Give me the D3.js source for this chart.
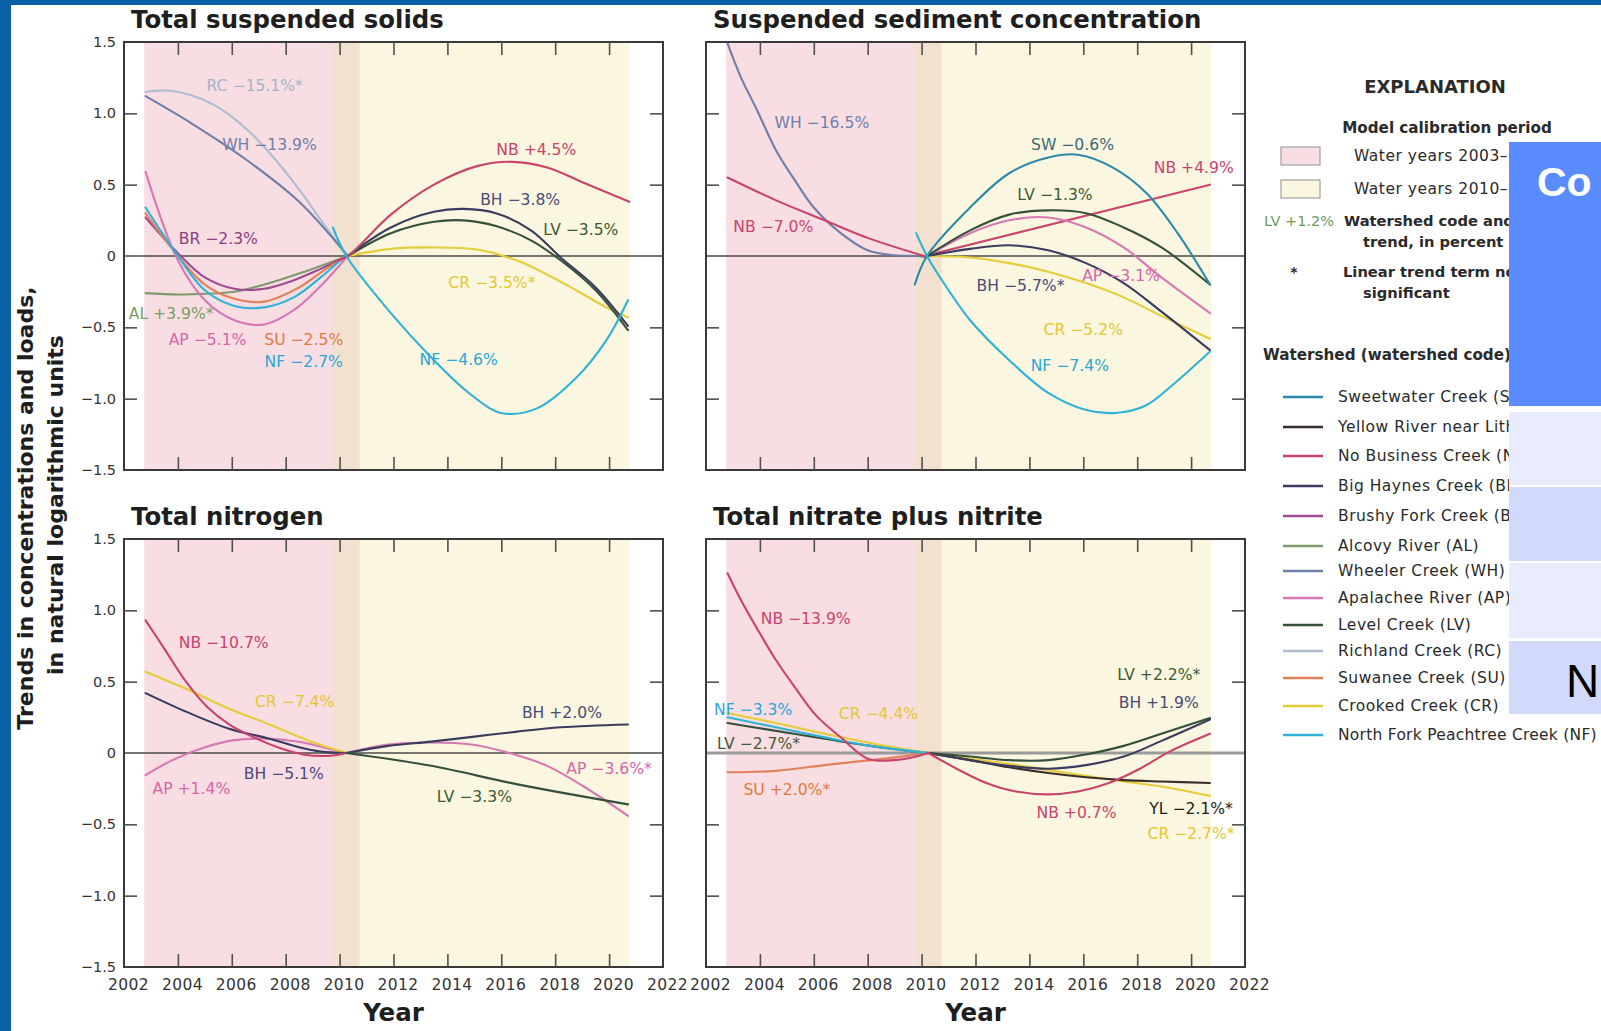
<!DOCTYPE html>
<html>
<head>
<meta charset="utf-8">
<script src="https://cdn.jsdelivr.net/npm/d3@7"></script>
<style>
  body { margin: 0; background: #ffffff; overflow: hidden; }
  svg { display: block; }
</style>
</head>
<body>
<svg id="chart" width="1601" height="1031"></svg>
<script>
// ---------- data ----------
const xTickYears = [2004, 2006, 2008, 2010, 2012, 2014, 2016, 2018, 2020];
const xLabelYears = [2002, 2004, 2006, 2008, 2010, 2012, 2014, 2016, 2018, 2020, 2022];
const yTickValues = [-1.0, -0.5, 0.5, 1.0];
const yLabelValues = [1.5, 1.0, 0.5, 0, -0.5, -1.0, -1.5];

const calibrationPeriods = [
  { label: "Water years 2003–2010", start: 2002.75, end: 2010.75 },
  { label: "Water years 2010–2020", start: 2009.75, end: 2020.75 }
];

const watersheds = [
  { code: "SW", name: "Sweetwater Creek (SW)" },
  { code: "YL", name: "Yellow River near Lithonia (YL)" },
  { code: "NB", name: "No Business Creek (NB)" },
  { code: "BH", name: "Big Haynes Creek (BH)" },
  { code: "BR", name: "Brushy Fork Creek (BR)" },
  { code: "AL", name: "Alcovy River (AL)" },
  { code: "WH", name: "Wheeler Creek (WH)" },
  { code: "AP", name: "Apalachee River (AP)" },
  { code: "LV", name: "Level Creek (LV)" },
  { code: "RC", name: "Richland Creek (RC)" },
  { code: "SU", name: "Suwanee Creek (SU)" },
  { code: "CR", name: "Crooked Creek (CR)" },
  { code: "NF", name: "North Fork Peachtree Creek (NF)" }
];

const panelTitles = [
  "Total suspended solids",
  "Suspended sediment concentration",
  "Total nitrogen",
  "Total nitrate plus nitrite"
];

// Total suspended solids: [water year, trend in natural log units]
const tssCurves = [
  { code: "RC", pts: [[2002.8,1.15],[2003.6,1.16],[2004.6,1.12],[2005.6,1.03],[2006.6,0.88],[2007.6,0.68],[2008.6,0.44],[2009.5,0.2],[2010.3,0]] },
  { code: "WH", pts: [[2002.8,1.12],[2004.5,0.93],[2006.5,0.68],[2008.5,0.38],[2010.3,0]] },
  { code: "AL", pts: [[2002.8,-0.26],[2004.0,-0.27],[2005.0,-0.265],[2006.1,-0.25],[2007.4,-0.19],[2008.7,-0.11],[2010.3,0]] },
  { code: "BR", pts: [[2002.8,0.27],[2004.0,0.02],[2005.0,-0.15],[2006.1,-0.23],[2007.2,-0.23],[2008.3,-0.17],[2009.3,-0.09],[2010.3,0]] },
  { code: "SU", pts: [[2002.8,0.3],[2004.0,0.0],[2005.0,-0.2],[2006.1,-0.3],[2007.2,-0.32],[2008.5,-0.22],[2009.5,-0.09],[2010.3,0]] },
  { code: "AP", pts: [[2002.8,0.59],[2004.0,-0.03],[2005.0,-0.31],[2006.1,-0.45],[2007.2,-0.48],[2008.3,-0.38],[2009.3,-0.21],[2010.3,0]] },
  { code: "NF", pts: [[2002.8,0.34],[2004.0,0.0],[2005.0,-0.24],[2006.1,-0.35],[2007.2,-0.36],[2008.3,-0.29],[2009.3,-0.15],[2010.2,0]] },
  { code: "CR", pts: [[2010.3,0],[2011.9,0.05],[2013.5,0.06],[2015.1,0.045],[2016.7,-0.04],[2018.3,-0.19],[2019.9,-0.36],[2020.7,-0.43]] },
  { code: "LV", pts: [[2010.3,0],[2011.9,0.16],[2013.5,0.24],[2014.6,0.25],[2015.8,0.21],[2017.1,0.11],[2018.2,-0.03],[2019.5,-0.24],[2020.7,-0.52]] },
  { code: "BH", pts: [[2010.3,0],[2011.9,0.2],[2013.5,0.31],[2014.6,0.33],[2015.8,0.3],[2017.1,0.18],[2018.2,-0.01],[2019.5,-0.22],[2020.7,-0.49]] },
  { code: "NB", pts: [[2009.8,-0.04],[2010.3,0],[2011.9,0.29],[2013.5,0.5],[2015.1,0.63],[2016.4,0.66],[2017.7,0.62],[2019.1,0.51],[2020.75,0.38]] },
  { code: "NF", pts: [[2009.75,0.2],[2010.25,0],[2011.9,-0.4],[2013.5,-0.73],[2014.8,-0.96],[2016.0,-1.1],[2017.3,-1.07],[2018.8,-0.85],[2019.9,-0.59],[2020.7,-0.31]] }
];
const tssLabels = [
  { code: "RC", text: "RC −15.1%*", year: 2006.85, value: 1.19 },
  { code: "WH", text: "WH −13.9%", year: 2007.4, value: 0.78 },
  { code: "NB", text: "NB +4.5%", year: 2017.3, value: 0.74 },
  { code: "BH", text: "BH −3.8%", year: 2016.7, value: 0.39 },
  { code: "LV", text: "LV −3.5%", year: 2018.95, value: 0.18 },
  { code: "BR", text: "BR −2.3%", year: 2005.5, value: 0.12 },
  { code: "CR", text: "CR −3.5%*", year: 2015.65, value: -0.19 },
  { code: "AL", text: "AL +3.9%*", year: 2003.75, value: -0.41 },
  { code: "AP", text: "AP −5.1%", year: 2005.1, value: -0.59 },
  { code: "SU", text: "SU −2.5%", year: 2008.67, value: -0.59 },
  { code: "NF", text: "NF −2.7%", year: 2008.67, value: -0.74 },
  { code: "NF", text: "NF −4.6%", year: 2014.42, value: -0.73 }
];

// Suspended sediment concentration
const sscCurves = [
  { code: "WH", pts: [[2002.8,1.49],[2003.3,1.25],[2003.9,1.02],[2004.6,0.74],[2005.3,0.53],[2006.0,0.34],[2007.0,0.16],[2008.0,0.04],[2009.0,0.005],[2009.85,0],[2010.2,-0.01]] },
  { code: "NB", pts: [[2002.8,0.55],[2004.6,0.39],[2006.4,0.25],[2008.1,0.12],[2010.1,0]] },
  { code: "NB", pts: [[2010.1,0],[2020.7,0.5]] },
  { code: "CR", pts: [[2010.2,0],[2011.8,-0.01],[2013.25,-0.05],[2014.7,-0.11],[2016.1,-0.19],[2017.5,-0.29],[2018.9,-0.42],[2020.7,-0.58]] },
  { code: "AP", pts: [[2010.2,0],[2011.8,0.16],[2013.25,0.25],[2014.7,0.27],[2016.1,0.2],[2017.5,0.06],[2018.9,-0.15],[2020.7,-0.4]] },
  { code: "BH", pts: [[2010.2,0],[2011.8,0.05],[2013.25,0.075],[2014.7,0.04],[2016.1,-0.05],[2017.5,-0.19],[2018.9,-0.39],[2020.7,-0.66]] },
  { code: "LV", pts: [[2010.2,0],[2011.8,0.18],[2013.25,0.29],[2014.7,0.32],[2016.1,0.3],[2017.5,0.2],[2018.9,0.06],[2020.7,-0.2]] },
  { code: "SW", pts: [[2009.75,-0.2],[2010.2,0],[2011.8,0.34],[2013.25,0.58],[2014.7,0.69],[2015.8,0.71],[2017.1,0.62],[2018.35,0.44],[2019.5,0.16],[2020.7,-0.2]] },
  { code: "NF", pts: [[2009.8,0.16],[2010.2,0],[2011.0,-0.24],[2011.8,-0.45],[2013.25,-0.73],[2014.7,-0.96],[2016.1,-1.08],[2017.2,-1.1],[2018.3,-1.05],[2019.4,-0.89],[2020.7,-0.67]] }
];
const sscLabels = [
  { code: "WH", text: "WH −16.5%", year: 2006.3, value: 0.93 },
  { code: "SW", text: "SW −0.6%", year: 2015.6, value: 0.78 },
  { code: "NB", text: "NB +4.9%", year: 2020.1, value: 0.62 },
  { code: "LV", text: "LV −1.3%", year: 2014.95, value: 0.43 },
  { code: "NB", text: "NB −7.0%", year: 2004.5, value: 0.2 },
  { code: "BH", text: "BH −5.7%*", year: 2013.67, value: -0.21 },
  { code: "AP", text: "AP −3.1%", year: 2017.4, value: -0.14 },
  { code: "CR", text: "CR −5.2%", year: 2016.0, value: -0.52 },
  { code: "NF", text: "NF −7.4%", year: 2015.5, value: -0.77 }
];

// Total nitrogen
const tnCurves = [
  { code: "AP", pts: [[2002.8,-0.155],[2003.8,-0.05],[2005.0,0.04],[2006.1,0.09],[2007.4,0.1],[2008.6,0.075],[2009.6,0.03],[2010.25,0]] },
  { code: "CR", pts: [[2002.8,0.57],[2004.3,0.45],[2005.9,0.31],[2007.4,0.2],[2008.8,0.09],[2010.25,0]] },
  { code: "BH", pts: [[2002.8,0.42],[2004.3,0.29],[2005.9,0.17],[2007.4,0.1],[2008.5,0.04],[2009.3,0.01],[2010.25,0]] },
  { code: "NB", pts: [[2002.8,0.93],[2003.5,0.73],[2004.3,0.5],[2005.1,0.32],[2005.9,0.2],[2006.7,0.12],[2007.7,0.04],[2008.65,-0.01],[2009.6,-0.02],[2010.25,0]] },
  { code: "AP", pts: [[2010.25,0],[2011.8,0.06],[2013.4,0.074],[2014.9,0.06],[2016.3,0.0],[2017.7,-0.09],[2019.1,-0.24],[2020.7,-0.44]] },
  { code: "BH", pts: [[2010.25,0],[2011.8,0.05],[2013.4,0.08],[2015.0,0.115],[2016.6,0.15],[2018.2,0.18],[2020.7,0.2]] },
  { code: "LV", pts: [[2010.25,0],[2013.4,-0.09],[2016.6,-0.22],[2020.7,-0.36]] }
];
const tnLabels = [
  { code: "NB", text: "NB −10.7%", year: 2005.7, value: 0.77 },
  { code: "CR", text: "CR −7.4%", year: 2008.33, value: 0.36 },
  { code: "BH", text: "BH +2.0%", year: 2018.25, value: 0.28 },
  { code: "BH", text: "BH −5.1%", year: 2007.93, value: -0.15 },
  { code: "AP", text: "AP +1.4%", year: 2004.5, value: -0.25 },
  { code: "AP", text: "AP −3.6%*", year: 2020.0, value: -0.11 },
  { code: "LV", text: "LV −3.3%", year: 2015.0, value: -0.31 }
];

// Total nitrate plus nitrite
const nnCurves = [
  { code: "SU", pts: [[2002.8,-0.135],[2004.6,-0.125],[2006.4,-0.085],[2008.1,-0.05],[2009.5,-0.02],[2010.25,0]] },
  { code: "LV", pts: [[2002.8,0.21],[2004.6,0.155],[2006.4,0.1],[2008.1,0.05],[2010.25,0]] },
  { code: "CR", pts: [[2002.8,0.28],[2004.6,0.21],[2006.4,0.135],[2008.1,0.07],[2010.25,0]] },
  { code: "NF", pts: [[2002.8,0.25],[2004.6,0.18],[2006.4,0.11],[2008.1,0.05],[2010.25,0]] },
  { code: "NB", pts: [[2002.8,1.26],[2003.3,1.07],[2003.9,0.87],[2004.6,0.65],[2005.3,0.46],[2006.1,0.26],[2007.0,0.11],[2008.0,-0.04],[2009.0,-0.05],[2009.8,-0.025],[2010.25,0]] },
  { code: "CR", pts: [[2010.25,0],[2011.8,-0.04],[2013.25,-0.075],[2014.7,-0.12],[2016.1,-0.16],[2017.5,-0.2],[2018.9,-0.235],[2020.7,-0.3]] },
  { code: "YL", pts: [[2010.25,0],[2011.8,-0.05],[2013.25,-0.1],[2014.7,-0.14],[2016.1,-0.17],[2017.5,-0.19],[2018.9,-0.2],[2020.7,-0.21]] },
  { code: "BH", pts: [[2010.25,0],[2011.8,-0.05],[2013.25,-0.09],[2014.7,-0.11],[2016.1,-0.085],[2017.5,-0.025],[2018.9,0.085],[2020.7,0.235]] },
  { code: "LV", pts: [[2010.25,0],[2011.8,-0.025],[2013.25,-0.05],[2014.7,-0.05],[2016.1,-0.01],[2017.5,0.05],[2018.9,0.135],[2020.7,0.245]] },
  { code: "NB", pts: [[2010.25,0],[2011.3,-0.11],[2012.4,-0.21],[2013.5,-0.27],[2014.7,-0.29],[2015.8,-0.27],[2016.95,-0.21],[2018.1,-0.11],[2019.2,0.01],[2020.7,0.135]] }
];
const nnLabels = [
  { code: "NB", text: "NB −13.9%", year: 2005.7, value: 0.94 },
  { code: "NF", text: "NF −3.3%", year: 2003.75, value: 0.3 },
  { code: "CR", text: "CR −4.4%", year: 2008.4, value: 0.27 },
  { code: "LV", text: "LV −2.7%*", year: 2003.95, value: 0.065 },
  { code: "SU", text: "SU +2.0%*", year: 2005.0, value: -0.26 },
  { code: "LV", text: "LV +2.2%*", year: 2018.8, value: 0.55 },
  { code: "BH", text: "BH +1.9%", year: 2018.8, value: 0.35 },
  { code: "NB", text: "NB +0.7%", year: 2015.75, value: -0.42 },
  { code: "YL", text: "YL −2.1%*", year: 2020.0, value: -0.39 },
  { code: "CR", text: "CR −2.7%*", year: 2020.0, value: -0.57 }
];

// ---------- styles ----------
const lineColor = {
  SW: "#2a8aa8", YL: "#3a2e2c", NB: "#c8446c", BH: "#3b3b60", BR: "#a04a90",
  AL: "#7e9a6e", WH: "#6f7fa6", AP: "#d678b4", LV: "#35503a", RC: "#aebdd0",
  SU: "#e2805a", CR: "#e4cd38", NF: "#2eb2d6"
};
const labelColor = {
  SW: "#3a6a78", YL: "#1e1a18", NB: "#c8446c", BH: "#4a4a78", BR: "#8c3c80",
  AL: "#7a9e62", WH: "#7080a8", AP: "#d466ac", LV: "#3e5a34", RC: "#a7b4c8",
  SU: "#e27a40", CR: "#e2c830", NF: "#2aa6d8"
};
const bandPink = "#f8dde3", bandYellow = "#faf6e0", bandOverlap = "#f3e1d0";
const FONT = "'DejaVu Sans', Verdana, sans-serif";

const svg = d3.select("#chart");

svg.append("rect").attr("x", 0).attr("y", 0).attr("width", 1601).attr("height", 1031).attr("fill", "#ffffff");

const layouts = [
  { x0: 124, x1: 663, y0: 42,  y1: 470, yLabels: true,  xLabels: false },
  { x0: 706, x1: 1245, y0: 42,  y1: 470, yLabels: false, xLabels: false },
  { x0: 124, x1: 663, y0: 539, y1: 967, yLabels: true,  xLabels: true },
  { x0: 706, x1: 1245, y0: 539, y1: 967, yLabels: false, xLabels: true, heavyZero: true }
];
const curveSets = [tssCurves, sscCurves, tnCurves, nnCurves];
const labelSets = [tssLabels, sscLabels, tnLabels, nnLabels];

layouts.forEach((L, i) => {
  const x = d3.scaleLinear().domain([2002, 2022]).range([L.x0, L.x1]);
  const y = d3.scaleLinear().domain([-1.5, 1.5]).range([L.y1, L.y0]);
  const g = svg.append("g");
  const clipId = "clip" + i;
  g.append("clipPath").attr("id", clipId).append("rect")
    .attr("x", L.x0).attr("y", L.y0).attr("width", L.x1 - L.x0).attr("height", L.y1 - L.y0);

  // calibration period bands
  const p1 = calibrationPeriods[0], p2 = calibrationPeriods[1];
  g.append("rect").attr("x", x(p1.start)).attr("y", L.y0).attr("width", x(p2.start) - x(p1.start)).attr("height", L.y1 - L.y0).attr("fill", bandPink);
  g.append("rect").attr("x", x(p2.start)).attr("y", L.y0).attr("width", x(p1.end) - x(p2.start)).attr("height", L.y1 - L.y0).attr("fill", bandOverlap);
  g.append("rect").attr("x", x(p1.end)).attr("y", L.y0).attr("width", x(p2.end) - x(p1.end)).attr("height", L.y1 - L.y0).attr("fill", bandYellow);

  // zero line
  g.append("line").attr("x1", L.x0).attr("x2", L.x1).attr("y1", y(0)).attr("y2", y(0))
    .attr("stroke", L.heavyZero ? "#9a9a9a" : "#4a4a4a").attr("stroke-width", L.heavyZero ? 3 : 1.6);

  // trend curves
  const line = d3.line().x(d => x(d[0])).y(d => y(d[1])).curve(d3.curveCatmullRom.alpha(0.5));
  g.append("g").attr("clip-path", `url(#${clipId})`).selectAll("path").data(curveSets[i]).join("path")
    .attr("d", d => line(d.pts)).attr("fill", "none")
    .attr("stroke", d => lineColor[d.code]).attr("stroke-width", 2.1)
    .attr("stroke-linecap", "round").attr("stroke-linejoin", "round");

  // trend labels
  g.append("g").selectAll("text").data(labelSets[i]).join("text")
    .attr("x", d => x(d.year)).attr("y", d => y(d.value))
    .attr("text-anchor", "middle").attr("dominant-baseline", "central")
    .attr("font-family", FONT).attr("font-size", 15.6)
    .attr("fill", d => labelColor[d.code]).text(d => d.text);

  // frame
  g.append("rect").attr("x", L.x0).attr("y", L.y0).attr("width", L.x1 - L.x0).attr("height", L.y1 - L.y0)
    .attr("fill", "none").attr("stroke", "#3a3a3a").attr("stroke-width", 2);

  // inward ticks on all four sides
  const tickStyle = sel => {
    sel.select(".domain").remove();
    sel.selectAll(".tick line").attr("stroke", "#505050").attr("stroke-width", 1.6);
    sel.selectAll(".tick text").remove();
  };
  g.append("g").attr("transform", `translate(0,${L.y0})`)
    .call(d3.axisTop(x).tickValues(xTickYears).tickSize(-13)).call(tickStyle);
  g.append("g").attr("transform", `translate(0,${L.y1})`)
    .call(d3.axisBottom(x).tickValues(xTickYears).tickSize(-13)).call(tickStyle);
  g.append("g").attr("transform", `translate(${L.x0},0)`)
    .call(d3.axisLeft(y).tickValues(yTickValues).tickSize(-13)).call(tickStyle);
  g.append("g").attr("transform", `translate(${L.x1},0)`)
    .call(d3.axisRight(y).tickValues(yTickValues).tickSize(-13)).call(tickStyle);

  // tick labels
  const fmt = v => v === 0 ? "0" : (v < 0 ? "−" : "") + Math.abs(v).toFixed(1);
  if (L.yLabels) {
    const ay = g.append("g").attr("transform", `translate(${L.x0},0)`)
      .call(d3.axisLeft(y).tickValues(yLabelValues).tickSize(0).tickPadding(8).tickFormat(fmt));
    ay.select(".domain").remove();
    ay.selectAll("text").attr("font-family", FONT).attr("font-size", 14.5).attr("fill", "#333");
  }
  if (L.xLabels) {
    const ax = g.append("g").attr("transform", `translate(0,${L.y1})`)
      .call(d3.axisBottom(x).tickValues(xLabelYears).tickSize(0).tickPadding(12).tickFormat(d3.format("d")));
    ax.select(".domain").remove();
    ax.selectAll("text").attr("font-family", FONT).attr("font-size", 15.5).attr("fill", "#333")
      .attr("letter-spacing", 0.4).attr("dx", 4);
    g.append("text").attr("x", (L.x0 + L.x1) / 2).attr("y", 1021).attr("text-anchor", "middle")
      .attr("font-family", FONT).attr("font-weight", "bold").attr("font-size", 24.5).attr("fill", "#1e1e1e")
      .text("Year");
  }

  // panel title
  g.append("text").attr("x", L.x0 + 7).attr("y", L.y0 - 14)
    .attr("font-family", FONT).attr("font-weight", "bold").attr("font-size", 24.4).attr("fill", "#1e1e1e")
    .text(panelTitles[i]);
});

// y axis title
const yTitle = svg.append("g").attr("font-family", FONT).attr("font-weight", "bold").attr("font-size", 22).attr("fill", "#1e1e1e");
yTitle.append("text").attr("transform", "translate(33,508) rotate(-90)").attr("text-anchor", "middle")
  .text("Trends in concentrations and loads,");
yTitle.append("text").attr("transform", "translate(63,505) rotate(-90)").attr("text-anchor", "middle")
  .text("in natural logarithmic units");

// ---------- explanation ----------
const leg = svg.append("g").attr("font-family", FONT).attr("fill", "#2a2a2a");
leg.append("text").attr("x", 1435).attr("y", 93).attr("text-anchor", "middle").attr("font-weight", "bold").attr("font-size", 18).text("EXPLANATION");
leg.append("text").attr("x", 1447).attr("y", 133).attr("text-anchor", "middle").attr("font-weight", "bold").attr("font-size", 15.2).text("Model calibration period");
const swatches = [bandPink, bandYellow];
calibrationPeriods.forEach((p, k) => {
  const yy = 147 + k * 33;
  leg.append("rect").attr("x", 1281).attr("y", yy).attr("width", 39).attr("height", 18)
    .attr("fill", swatches[k]).attr("stroke", "#a0a0a0").attr("stroke-width", 1.2);
  leg.append("text").attr("x", 1354).attr("y", yy + 14).attr("font-size", 15.5).attr("letter-spacing", 0.5).text(p.label);
});
leg.append("text").attr("x", 1264).attr("y", 226).attr("font-size", 14.5).attr("fill", "#6e9a5e").text("LV +1.2%");
const legBold = [
  ["Watershed code and", 1344, 226], ["trend, in percent", 1363, 247],
  ["Linear trend term not", 1343, 277], ["significant", 1363, 298]
];
legBold.forEach(t => leg.append("text").attr("x", t[1]).attr("y", t[2]).attr("font-size", 14.7).attr("font-weight", "bold").text(t[0]));
leg.append("text").attr("x", 1294).attr("y", 277).attr("text-anchor", "middle").attr("font-size", 14).attr("font-weight", "bold").text("*");
leg.append("text").attr("x", 1263).attr("y", 360).attr("font-size", 15.2).attr("font-weight", "bold").text("Watershed (watershed code)");

const entryRows = [397, 427, 456, 486, 516, 546, 571, 598, 625, 651, 678, 706, 735];
const entries = leg.selectAll("g.entry").data(watersheds).join("g").attr("class", "entry")
  .attr("transform", (d, k) => `translate(0,${entryRows[k]})`);
entries.append("line").attr("x1", 1283).attr("x2", 1323).attr("y1", 0).attr("y2", 0)
  .attr("stroke", d => lineColor[d.code]).attr("stroke-width", 2.5);
entries.append("text").attr("x", 1338).attr("y", 5).attr("font-size", 15.5)
  .attr("letter-spacing", (d, k) => k === watersheds.length - 1 ? 0.25 : 0.5).text(d => d.name);

// ---------- slide overlay (table cells over the right margin) ----------
svg.append("rect").attr("x", 1509).attr("y", 142).attr("width", 92).attr("height", 572).attr("fill", "#ffffff");
svg.append("rect").attr("x", 1509).attr("y", 142).attr("width", 92).attr("height", 264).attr("fill", "#5b8cff");
svg.append("text").attr("x", 1537).attr("y", 196).attr("font-family", "'Liberation Sans', Arial, sans-serif")
  .attr("font-weight", "bold").attr("font-size", 41).attr("fill", "#ffffff").text("Co");
const rows = [[412, 73, "#e9ecfc"], [487, 74, "#d1dafa"], [563, 75, "#e9ecfc"], [641, 73, "#d1dafa"]];
rows.forEach(r => svg.append("rect").attr("x", 1509).attr("y", r[0]).attr("width", 92).attr("height", r[1]).attr("fill", r[2]));
svg.append("text").attr("x", 1566).attr("y", 697).attr("font-family", "'Liberation Sans', Arial, sans-serif")
  .attr("font-size", 46).attr("fill", "#000000").text("N");

svg.append("rect").attr("x", 0).attr("y", 0).attr("width", 11).attr("height", 1031).attr("fill", "#0a5fa6");
svg.append("rect").attr("x", 0).attr("y", 0).attr("width", 1601).attr("height", 5).attr("fill", "#0a5fa6");
</script>
</body>
</html>
